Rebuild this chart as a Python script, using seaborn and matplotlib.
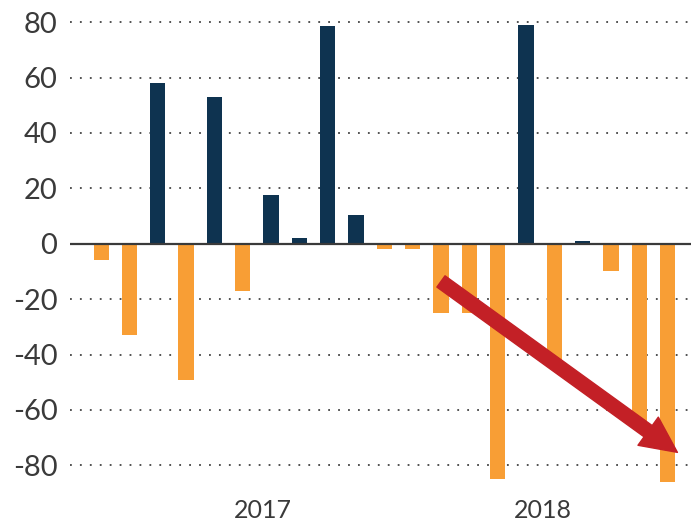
import numpy as np
import pandas as pd
import matplotlib
matplotlib.use('Agg')
import matplotlib.pyplot as plt
import seaborn as sns
from matplotlib.patches import FancyArrowPatch

# =============================================================================
# Data
# =============================================================================
periods = list(range(21))
values = [-6, -33, 58, -49, 53, -17, 17.5, 2, 78.5, 10.5, -2, -2,
          -25, -25, -85, 79, -42, 1, -10, -65, -86]
year_ticks = [5.7, 15.6]
year_labels = ['2017', '2018']
y_ticks = [-80, -60, -40, -20, 0, 20, 40, 60, 80]

# trend arrow (data coordinates)
arrow_start = (12.0, -13.6)
arrow_end = (20.35, -75.3)

df = pd.DataFrame({'period': periods, 'value': values})
df['sign'] = np.where(df['value'] >= 0, 'up', 'down')

# =============================================================================
# Plot
# =============================================================================
sns.set_style('white')
plt.rcParams['font.family'] = ['Lato', 'DejaVu Sans']

navy = '#0e3350'
orange = '#f89e35'
red = '#c32026'
text_col = '#3a3a3a'

fig = plt.figure(figsize=(6.91, 5.24), dpi=100)
ax = fig.add_axes([0.1013, 0.059, 0.8987, 0.941])

sns.barplot(data=df, x='period', y='value', hue='sign',
            palette={'up': navy, 'down': orange}, dodge=False,
            width=0.54, legend=False, ax=ax, linewidth=0,
            saturation=1, order=periods)

ax.set_xlim(-1.1, 20.83)
ax.set_ylim(-90, 88)

# dotted gridlines + solid zero line
for yv in y_ticks:
    if yv != 0:
        ax.axhline(yv, color='#444444', lw=1.3, ls=(0, (1, 4.5)), zorder=0)
ax.axhline(0, color='#3a3a3a', lw=1.6, zorder=3)

ax.set_yticks(y_ticks)
ax.set_yticklabels([str(v) for v in y_ticks], fontsize=21, color=text_col)
ax.set_xticks(year_ticks)
ax.set_xticklabels(year_labels, fontsize=18, color=text_col)
ax.tick_params(axis='both', length=0)
ax.tick_params(axis='y', pad=9)
ax.tick_params(axis='x', pad=4)
ax.set_xlabel('')
ax.set_ylabel('')
for s in ax.spines.values():
    s.set_visible(False)

arrow = FancyArrowPatch(arrow_start, arrow_end,
                        arrowstyle='simple,head_length=1.3,head_width=1.25,tail_width=0.5',
                        mutation_scale=20, color=red, shrinkA=0, shrinkB=0,
                        zorder=5)
ax.add_patch(arrow)

plt.savefig('out.png', dpi=100)
